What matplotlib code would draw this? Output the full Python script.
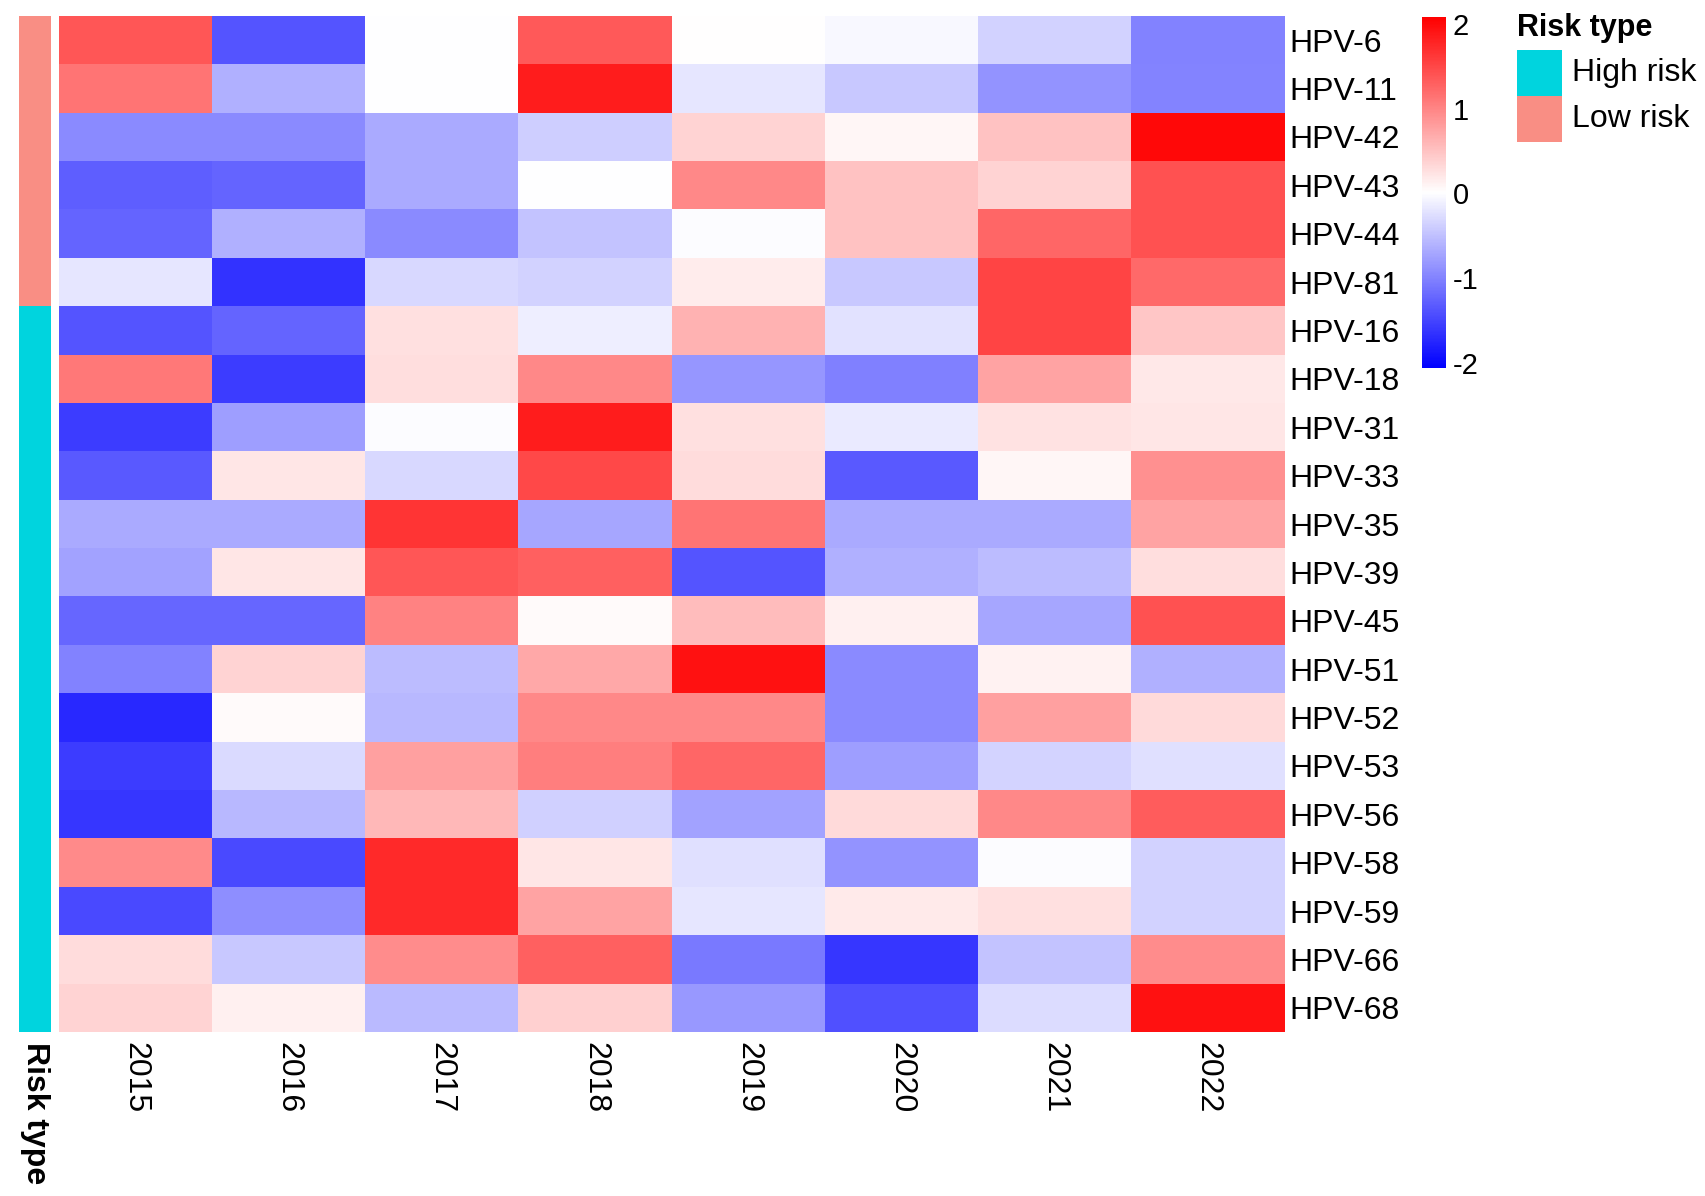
#!/usr/bin/env python3
import numpy as np
import matplotlib
matplotlib.use("Agg")
import matplotlib.pyplot as plt
from matplotlib.colors import LinearSegmentedColormap, ListedColormap
from matplotlib.patches import Rectangle

plt.rcParams['font.family'] = ['Liberation Sans', 'DejaVu Sans']
plt.rcParams['axes.unicode_minus'] = False

years = ["2015", "2016", "2017", "2018", "2019", "2020", "2021", "2022"]
hpv_types = ["HPV-6", "HPV-11", "HPV-42", "HPV-43", "HPV-44", "HPV-81",
             "HPV-16", "HPV-18", "HPV-31", "HPV-33", "HPV-35", "HPV-39",
             "HPV-45", "HPV-51", "HPV-52", "HPV-53", "HPV-56", "HPV-58",
             "HPV-59", "HPV-66", "HPV-68"]
risk_type = ["Low risk"] * 6 + ["High risk"] * 15
risk_levels = ["High risk", "Low risk"]
risk_colors = ["#00D4DE", "#F98E84"]

# scaled values, one list per HPV type (2015..2022)
hpv_6 = [1.37, -1.37, 0.00, 1.35, 0.02, -0.05, -0.35, -1.00]
hpv_11 = [1.14, -0.63, 0.00, 1.84, -0.20, -0.43, -0.86, -0.98]
hpv_42 = [-0.94, -0.94, -0.67, -0.39, 0.35, 0.08, 0.50, 2.00]
hpv_43 = [-1.29, -1.25, -0.67, 0.00, 0.98, 0.51, 0.35, 1.41]
hpv_44 = [-1.25, -0.63, -0.94, -0.47, -0.02, 0.51, 1.25, 1.41]
hpv_81 = [-0.20, -1.65, -0.31, -0.35, 0.16, -0.43, 1.53, 1.22]
hpv_16 = [-1.37, -1.25, 0.26, -0.12, 0.63, -0.22, 1.53, 0.47]
hpv_18 = [1.10, -1.57, 0.27, 0.98, -0.84, -1.02, 0.75, 0.20]
hpv_31 = [-1.57, -0.78, -0.02, 1.84, 0.26, -0.16, 0.24, 0.21]
hpv_33 = [-1.33, 0.21, -0.31, 1.49, 0.29, -1.33, 0.08, 0.90]
hpv_35 = [-0.68, -0.68, 1.65, -0.71, 1.14, -0.68, -0.68, 0.75]
hpv_39 = [-0.74, 0.21, 1.37, 1.29, -1.37, -0.63, -0.53, 0.27]
hpv_45 = [-1.22, -1.22, 1.02, 0.05, 0.55, 0.13, -0.71, 1.41]
hpv_51 = [-1.00, 0.35, -0.53, 0.71, 1.92, -0.94, 0.12, -0.63]
hpv_52 = [-1.73, 0.05, -0.57, 0.98, 0.98, -0.94, 0.78, 0.31]
hpv_53 = [-1.57, -0.29, 0.78, 1.06, 1.25, -0.78, -0.34, -0.24]
hpv_56 = [-1.61, -0.57, 0.59, -0.37, -0.75, 0.31, 0.98, 1.33]
hpv_58 = [0.96, -1.45, 1.73, 0.21, -0.24, -0.86, -0.02, -0.35]
hpv_59 = [-1.45, -0.90, 1.73, 0.75, -0.20, 0.18, 0.26, -0.35]
hpv_66 = [0.29, -0.43, 0.94, 1.29, -1.06, -1.61, -0.47, 0.94]
hpv_68 = [0.35, 0.13, -0.55, 0.39, -0.82, -1.41, -0.27, 1.92]

values = np.array([hpv_6, hpv_11, hpv_42, hpv_43, hpv_44, hpv_81, hpv_16,
                   hpv_18, hpv_31, hpv_33, hpv_35, hpv_39, hpv_45, hpv_51,
                   hpv_52, hpv_53, hpv_56, hpv_58, hpv_59, hpv_66, hpv_68])

W, H = 1705, 1196


def box(x0, y0, x1, y1):
    # pixel box (top-left origin) -> figure fraction rect
    return [x0 / W, 1 - y1 / H, (x1 - x0) / W, (y1 - y0) / H]


fig = plt.figure(figsize=(W / 100, H / 100), dpi=100)
cmap = LinearSegmentedColormap.from_list("bwr_ph", ["#0000FF", "#FFFFFF", "#FF0000"], N=256)

# main heatmap
ax = fig.add_axes(box(59, 16, 1284, 1032))
im = ax.imshow(values, cmap=cmap, vmin=-2.06, vmax=2.08, aspect="auto",
               interpolation="nearest")
ax.set_xticks(range(len(years)))
ax.set_xticklabels(years, rotation=270, fontsize=23)
ax.set_yticks(range(len(hpv_types)))
ax.set_yticklabels(hpv_types, fontsize=23)
ax.yaxis.tick_right()
ax.tick_params(axis="both", length=0)
ax.tick_params(axis="x", pad=7)
ax.tick_params(axis="y", pad=4)
for s in ax.spines.values():
    s.set_visible(False)

# annotation column
ax_a = fig.add_axes(box(19, 16, 51, 1032))
codes = np.array([[risk_levels.index(r)] for r in risk_type])
ax_a.imshow(codes, cmap=ListedColormap(risk_colors), vmin=0, vmax=1,
            aspect="auto", interpolation="nearest")
ax_a.set_yticks([])
ax_a.set_xticks([0])
ax_a.set_xticklabels(["Risk type"], rotation=270, fontsize=23,
                     fontweight="bold")
ax_a.tick_params(axis="x", length=0, pad=7)
for s in ax_a.spines.values():
    s.set_visible(False)

# colour bar
cax = fig.add_axes(box(1422, 17, 1446, 368))
cb = fig.colorbar(im, cax=cax, ticks=[-2, -1, 0, 1, 2])
cb.outline.set_visible(False)
cax.tick_params(length=0, labelsize=21, pad=5)

# legend for risk type
fig.text(1517 / W, 1 - 28 / H, "Risk type", fontsize=22, fontweight="bold",
         va="center", ha="left")
for i, (lab, col) in enumerate(zip(risk_levels, risk_colors)):
    y0 = 50 + i * 46
    fig.add_artist(Rectangle((1517 / W, 1 - (y0 + 46) / H), 45 / W, 46 / H,
                             transform=fig.transFigure, color=col, lw=0))
    fig.text(1572 / W, 1 - (y0 + 23) / H, lab, fontsize=23,
             va="center", ha="left")

fig.savefig("out.png", dpi=100)
